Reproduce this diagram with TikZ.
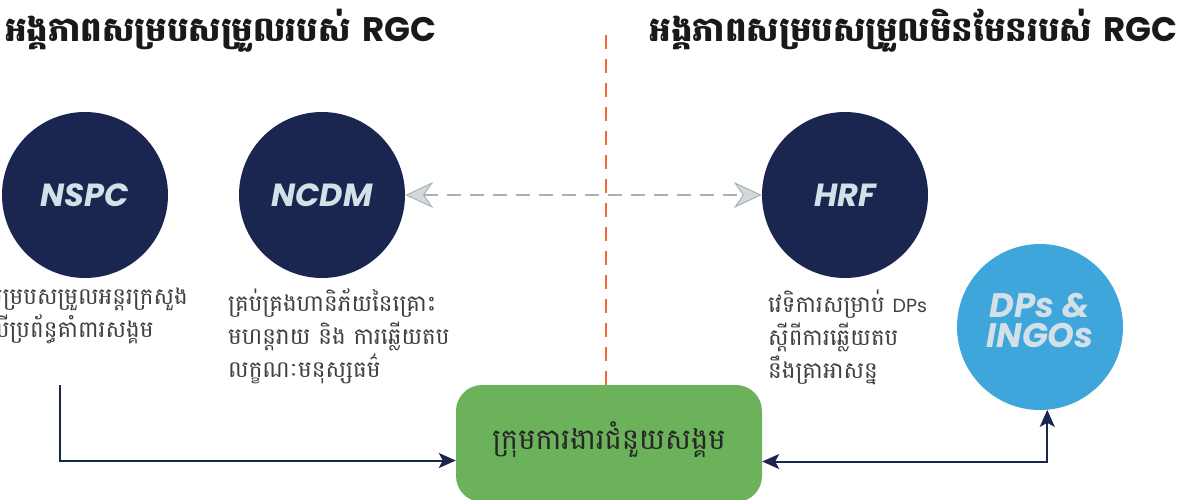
\documentclass[tikz,border=0pt]{standalone}
\usepackage{fontspec}
\newfontfamily\khm[Script=Khmer]{Battambang}
\newfontfamily\pop{Poppins}
\usetikzlibrary{arrows.meta,%
                shapes,positioning}
\definecolor{navy}{HTML}{1A264F}
\definecolor{ice}{HTML}{D3E0E8}
\definecolor{sky}{HTML}{3FA6DB}
\definecolor{leaf}{HTML}{6BB25A}
\definecolor{ink}{HTML}{404040}
\definecolor{mist}{HTML}{A7B2B7}
\definecolor{flame}{HTML}{F26A3B}
\tikzset{
  agency/.style={circle, fill=navy, minimum size=166pt, inner sep=0pt, text=ice,
    font=\pop\bfseries\itshape\fontsize{32}{32}\selectfont},
  donor/.style={agency, fill=sky},
  donortext/.style={align=center, text=ice, inner sep=0pt, font=\pop\bfseries\itshape\fontsize{34}{30}\selectfont},
  note/.style={anchor=north west, align=left, inner sep=0pt, text=ink,
    font=\khm\fontsize{23}{33}\selectfont},
  heading/.style={inner sep=0pt, text=black!90, font=\khm\bfseries\fontsize{34}{34}\selectfont},
  teambox/.style={rounded corners=26pt, fill=leaf, minimum width=306pt, minimum height=117pt},
  link/.style={draw=navy, line width=2pt},
  bridge/.style={draw=mist, line width=2.5pt, dash pattern=on 14pt off 9pt},
  divider/.style={draw=flame, line width=2pt, dash pattern=on 14pt off 10pt}
}
\begin{document}
\begin{tikzpicture}[x=1pt,y=-1pt]
\useasboundingbox (0,0) rectangle (1181,499);
\node[heading, anchor=base west] (lefthead) at (5,41) {អង្គភាពសម្របសម្រួលរបស់ {\pop\bfseries RGC}};
\node[heading, anchor=base east] (righthead) at (1178,41) {អង្គភាពសម្របសម្រួលមិនមែនរបស់ {\pop\bfseries RGC}};

\coordinate (divtop) at (606,35);
\coordinate (divbot) at (606,390);
\draw[divider] (divtop) -- (divbot);

\node[agency] (nspc) at (85,195) {NSPC};
\node[agency] (ncdm) at (322,195) {NCDM};
\node[agency] (hrf) at (845,195) {HRF};
\node[donor] (dps) at (1040,327) {};
\node[donortext] (dpstext) at ([yshift=6pt]dps.center) {DPs \&\\INGOs};

\node[note] (nspcnote) at (-18,288) {សម្របសម្រួលអន្តរក្រសួង\\លើប្រព័ន្ធគាំពារសង្គម};
\node[note] (ncdmnote) at (228,288) {គ្រប់គ្រងហានិភ័យនៃគ្រោះ\\មហន្តរាយ និង ការឆ្លើយតប\\លក្ខណៈមនុស្សធម៌};
\node[note] (hrfnote) at (768,290) {វេទិការសម្រាប់ {\pop\fontsize{19}{19}\selectfont DPs}\\ស្តីពីការឆ្លើយតប\\នឹងគ្រាអាសន្ន};

\node[teambox] (team) at (609,443.5) {};
\node[font=\khm\fontsize{29}{29}\selectfont, text=black!85] (teamtext) at (609,440) {ក្រុមការងារជំនួយសង្គម};

\draw[bridge, {Stealth[length=28pt,width=26pt,inset=9pt,fill=mist!50,line width=1pt]}-{Stealth[length=28pt,width=26pt,inset=9pt,fill=mist!50,line width=1pt]}] (ncdm) -- (hrf);

\coordinate (nspcfoot) at (60,385);
\draw[link, -{Stealth[length=17pt,width=15pt,inset=4pt]}] (nspcfoot) |- ([yshift=-17pt]team.west);
\draw[link, {Stealth[length=17pt,width=15pt,inset=4pt]}-{Stealth[length=17pt,width=15pt,inset=4pt]}] ([yshift=-18pt]team.east) -| (dps.-85);
\end{tikzpicture}
\end{document}
